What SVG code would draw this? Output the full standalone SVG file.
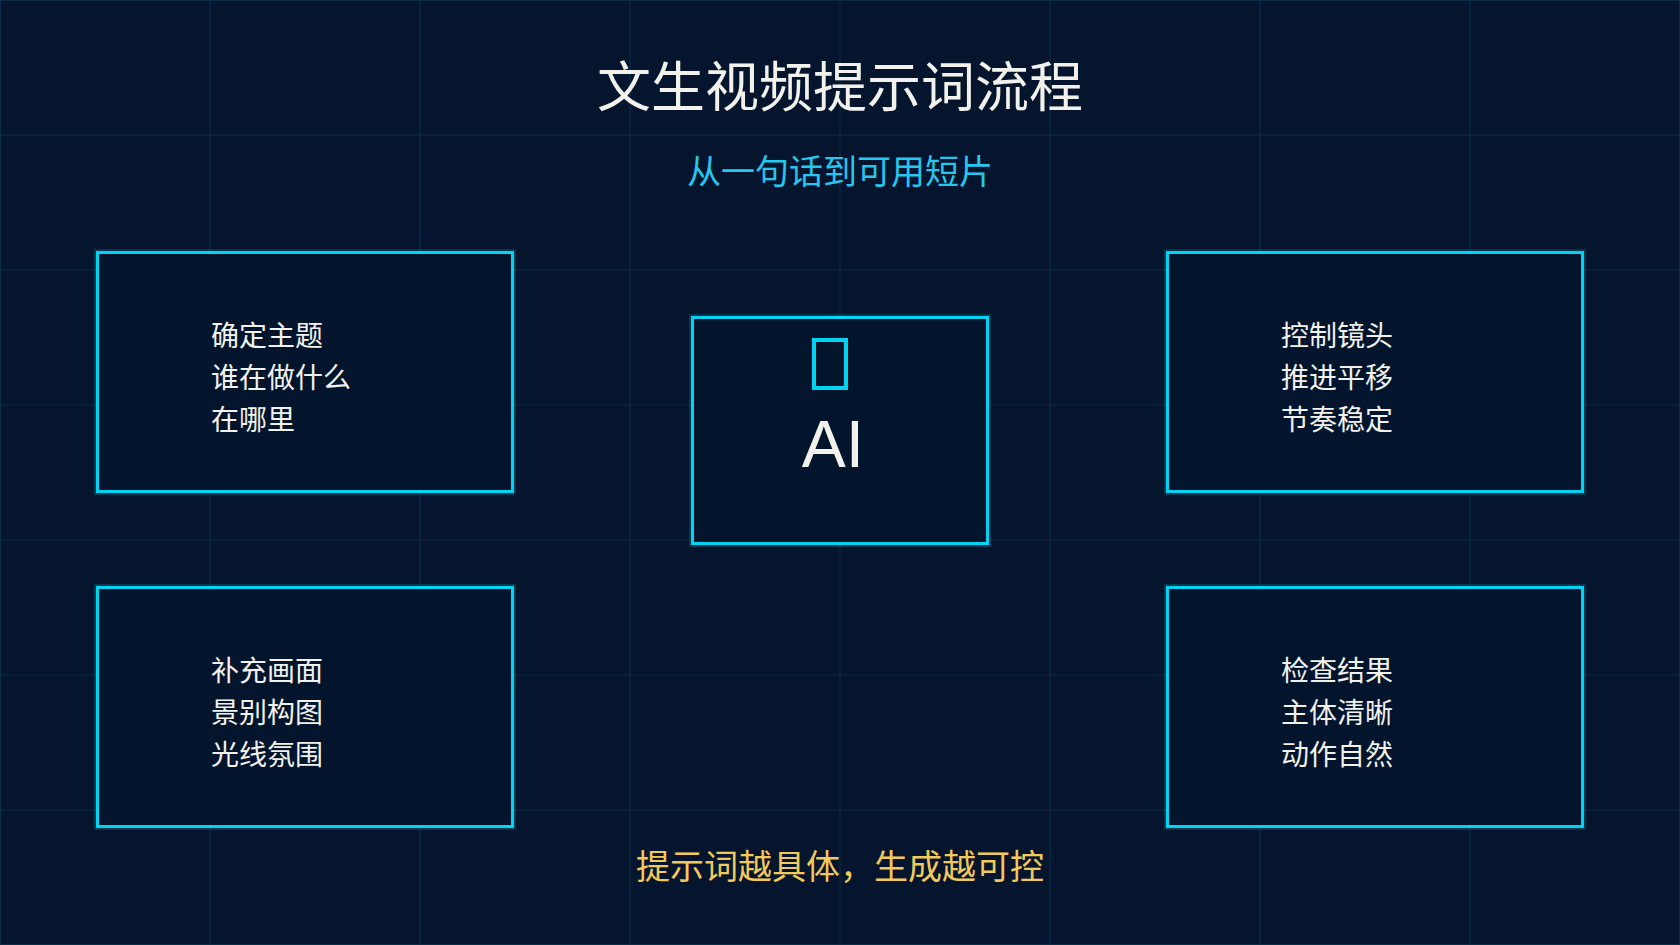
<svg xmlns="http://www.w3.org/2000/svg" width="1680" height="945" viewBox="0 0 1680 945">
<defs>
<style>
.grid{stroke:#0b2c47;stroke-width:1.2}
.box{fill:#03152c;stroke:#00d4f2;stroke-width:3}
.glow{fill:none;stroke:#00d4f2;stroke-width:7;stroke-opacity:0.18}
.t{font-family:"Noto Sans CJK SC","Noto Sans",sans-serif;fill:#f2f1ec;font-size:28px}
.title{font-family:"Noto Sans CJK SC","Noto Sans",sans-serif;fill:#f2f1ec;font-size:54px;text-anchor:middle}
.sub{font-family:"Noto Sans CJK SC","Noto Sans",sans-serif;fill:#26c6ee;font-size:34px;text-anchor:middle}
.foot{font-family:"Noto Sans CJK SC","Noto Sans",sans-serif;fill:#f3c95c;font-size:34px;text-anchor:middle}
.ai{font-family:"Liberation Sans",Arial,sans-serif;fill:#f2f1ec;font-size:66px;text-anchor:middle}
</style>
</defs>
<rect width="1680" height="945" fill="#04152d"/>
<g id="grid">
<path class="grid" d="M0.5 0V945M210 0V945M420 0V945M630 0V945M840 0V945M1050 0V945M1260 0V945M1470 0V945M1679.5 0V945M0 0.5H1680M0 135H1680M0 270H1680M0 405H1680M0 540H1680M0 675H1680M0 810H1680M0 944.5H1680"/>
</g>
<g id="header">
<text class="title" x="840" y="107">文生视频提示词流程</text>
<text class="sub" x="840" y="184">从一句话到可用短片</text>
</g>
<g id="connectors"></g>
<g id="node-topic">
<rect class="glow" x="97.5" y="252.5" width="415" height="239"/>
<rect class="box" x="97.5" y="252.5" width="415" height="239"/>
<text class="t" x="211" y="346">确定主题</text>
<text class="t" x="211" y="388">谁在做什么</text>
<text class="t" x="211" y="430">在哪里</text>
</g>
<g id="node-scene">
<rect class="glow" x="97.5" y="587.5" width="415" height="239"/>
<rect class="box" x="97.5" y="587.5" width="415" height="239"/>
<text class="t" x="211" y="681">补充画面</text>
<text class="t" x="211" y="723">景别构图</text>
<text class="t" x="211" y="765">光线氛围</text>
</g>
<g id="node-camera">
<rect class="glow" x="1167.5" y="252.5" width="415" height="239"/>
<rect class="box" x="1167.5" y="252.5" width="415" height="239"/>
<text class="t" x="1281" y="346">控制镜头</text>
<text class="t" x="1281" y="388">推进平移</text>
<text class="t" x="1281" y="430">节奏稳定</text>
</g>
<g id="node-check">
<rect class="glow" x="1167.5" y="587.5" width="415" height="239"/>
<rect class="box" x="1167.5" y="587.5" width="415" height="239"/>
<text class="t" x="1281" y="681">检查结果</text>
<text class="t" x="1281" y="723">主体清晰</text>
<text class="t" x="1281" y="765">动作自然</text>
</g>
<g id="node-ai">
<rect class="glow" x="692.5" y="317.5" width="295" height="226"/>
<rect class="box" x="692.5" y="317.5" width="295" height="226"/>
<rect x="814" y="340" width="32" height="48" fill="none" stroke="#00d4f2" stroke-width="4"/>
<text class="ai" x="833" y="467">AI</text>
</g>
<g id="footer">
<text class="foot" x="840" y="879">提示词越具体，生成越可控</text>
</g>
</svg>
